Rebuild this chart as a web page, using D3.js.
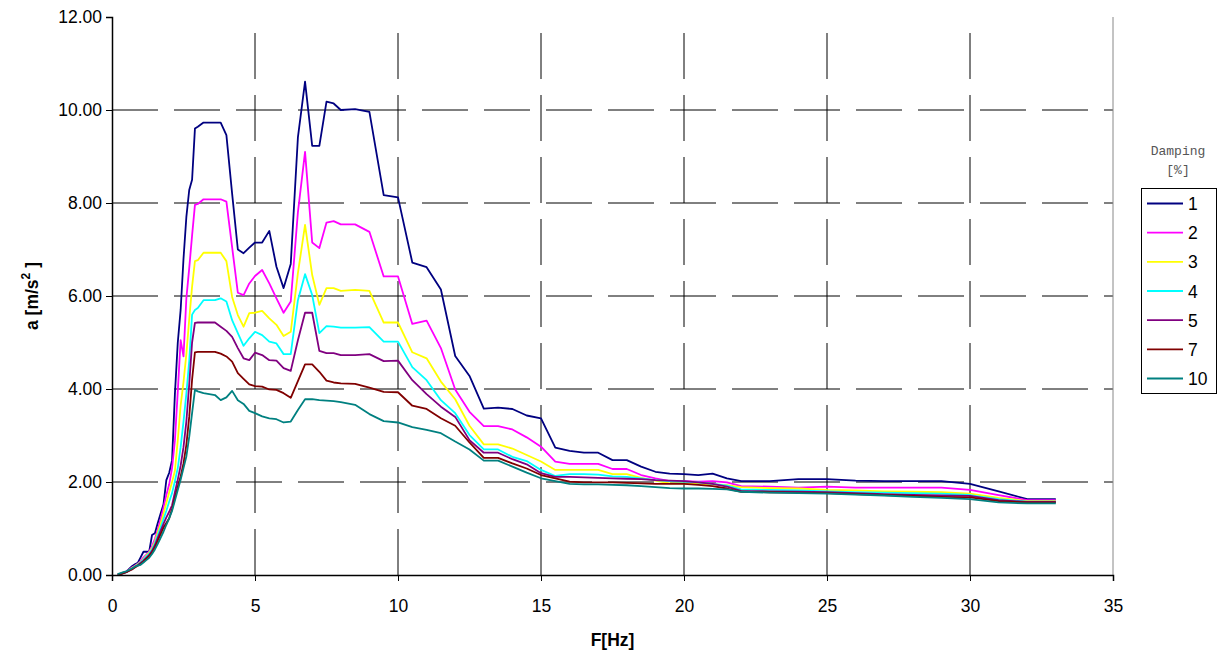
<!DOCTYPE html>
<html><head><meta charset="utf-8">
<script src="https://cdn.jsdelivr.net/npm/d3@7/dist/d3.min.js"></script>
<style>body{margin:0;background:#fff} svg{display:block}</style>
</head><body>
<svg id="c" width="1226" height="657"></svg>
<script>
// ---- data ----
const freq = [
  0.2,0.3,0.4,0.5,0.6,0.7,0.8,0.9,1.0,1.1,1.2,1.3,1.4,1.5,1.6,1.7,1.8,1.9,2.0,2.1,2.2,2.3,2.4,2.5,2.6,2.7,2.8,2.9,3.0,
  3.2,3.4,3.6,3.8,4.0,4.2,4.4,4.6,4.8,5.0,
  5.25,5.5,5.75,6.0,6.25,6.5,6.75,7.0,7.25,7.5,7.75,8.0,
  8.5,9,9.5,10,10.5,11,11.5,12,12.5,13,13.5,14,14.5,15,15.5,16,16.5,17,17.5,18,18.5,19,19.5,20,20.5,21,21.5,22,
  23,24,25,26,27,28,29,30,31,32,33];
const damping = ["1","2","3","4","5","7","10"];
const d1 = [
  0.01,0.03,0.05,0.07,0.13,0.19,0.23,0.26,0.38,0.50,0.50,0.50,0.86,0.90,1.12,1.32,1.52,2.04,2.20,2.47,3.90,5.00,5.70,6.80,7.70,8.28,8.50,9.60,9.64,
  9.73,9.73,9.73,9.73,9.46,8.20,7.00,6.92,7.04,7.15,
  7.15,7.40,6.63,6.17,6.69,9.41,10.61,9.23,9.23,10.18,10.14,10.00,
  10.02,9.96,8.17,8.12,6.72,6.62,6.14,4.71,4.28,3.58,3.60,3.57,3.43,3.37,2.74,2.67,2.63,2.63,2.47,2.47,2.33,2.22,2.18,2.17,2.15,2.18,2.08,2.02,
  2.02,2.06,2.06,2.03,2.02,2.02,2.02,1.96,1.80,1.63,1.63];
const d2 = [
  0.01,0.03,0.05,0.08,0.12,0.16,0.20,0.24,0.30,0.38,0.44,0.50,0.62,0.78,0.98,1.20,1.45,1.72,1.95,2.30,2.90,3.95,5.05,4.70,5.95,6.60,7.30,7.96,7.98,
  8.08,8.08,8.08,8.08,8.03,7.05,6.07,6.02,6.27,6.43,
  6.56,6.27,5.95,5.64,5.88,7.80,9.10,7.15,7.03,7.58,7.61,7.54,
  7.54,7.38,6.42,6.42,5.40,5.47,4.88,3.99,3.51,3.20,3.20,3.13,2.96,2.76,2.44,2.39,2.39,2.39,2.28,2.28,2.15,2.08,2.02,2.02,2.01,2.02,1.99,1.91,
  1.90,1.88,1.90,1.88,1.88,1.88,1.88,1.83,1.72,1.61,1.61];
const d3v = [
  0.01,0.03,0.05,0.07,0.11,0.15,0.19,0.23,0.28,0.35,0.42,0.48,0.58,0.72,0.92,1.10,1.32,1.55,1.78,2.00,2.24,2.90,3.65,4.15,4.75,5.50,6.20,6.75,6.77,
  6.93,6.93,6.93,6.93,6.75,5.98,5.59,5.34,5.63,5.64,
  5.68,5.52,5.38,5.14,5.23,6.49,7.53,6.45,5.81,6.17,6.17,6.11,
  6.13,6.11,5.43,5.43,4.79,4.66,4.16,3.78,3.21,2.81,2.81,2.72,2.58,2.44,2.26,2.26,2.26,2.26,2.17,2.17,2.09,2.03,1.97,1.97,1.96,1.95,1.93,1.89,
  1.87,1.86,1.83,1.82,1.80,1.79,1.78,1.75,1.66,1.59,1.59];
const d4 = [
  0.01,0.02,0.04,0.06,0.10,0.14,0.18,0.22,0.27,0.33,0.40,0.46,0.55,0.68,0.86,1.02,1.20,1.38,1.58,1.76,2.02,2.30,2.75,3.30,3.90,4.60,5.60,5.70,5.74,
  5.91,5.91,5.91,5.95,5.88,5.48,5.20,4.93,5.09,5.23,
  5.16,5.02,4.98,4.75,4.75,5.91,6.47,6.02,5.20,5.35,5.34,5.32,
  5.32,5.33,5.02,5.02,4.47,4.19,3.76,3.48,3.01,2.70,2.70,2.54,2.45,2.26,2.13,2.17,2.17,2.16,2.12,2.11,2.08,2.04,2.02,2.01,1.99,1.96,1.92,1.84,
  1.83,1.82,1.80,1.78,1.77,1.76,1.75,1.72,1.63,1.58,1.58];
const d5 = [
  0.01,0.02,0.04,0.06,0.09,0.13,0.17,0.21,0.26,0.31,0.37,0.43,0.52,0.64,0.80,0.95,1.10,1.24,1.36,1.50,1.78,2.05,2.35,2.75,3.30,4.10,5.00,5.42,5.43,
  5.43,5.43,5.43,5.34,5.25,5.12,4.88,4.66,4.62,4.78,
  4.73,4.62,4.61,4.45,4.39,5.05,5.64,5.64,4.82,4.77,4.77,4.73,
  4.73,4.75,4.60,4.61,4.19,3.89,3.62,3.40,2.90,2.63,2.63,2.49,2.38,2.19,2.11,2.11,2.10,2.09,2.08,2.07,2.06,2.04,2.03,2.02,1.99,1.96,1.90,1.81,
  1.80,1.79,1.78,1.76,1.74,1.72,1.71,1.70,1.61,1.57,1.57];
const d7 = [
  0.01,0.02,0.04,0.06,0.09,0.12,0.16,0.20,0.24,0.29,0.35,0.41,0.49,0.60,0.74,0.88,1.02,1.12,1.22,1.42,1.66,1.90,2.12,2.40,2.80,3.40,4.20,4.79,4.80,
  4.80,4.80,4.80,4.76,4.70,4.59,4.34,4.22,4.10,4.06,
  4.05,3.99,3.98,3.91,3.81,4.17,4.53,4.53,4.37,4.18,4.14,4.12,
  4.11,4.03,3.94,3.93,3.64,3.57,3.37,3.21,2.85,2.52,2.52,2.40,2.29,2.15,2.08,2.01,1.99,1.99,1.99,1.98,1.97,1.96,1.96,1.96,1.94,1.91,1.86,1.79,
  1.78,1.77,1.76,1.74,1.72,1.70,1.68,1.67,1.59,1.56,1.56];
const d10 = [
  0.02,0.04,0.06,0.08,0.11,0.14,0.18,0.20,0.22,0.27,0.32,0.37,0.45,0.55,0.67,0.80,0.93,1.08,1.22,1.38,1.60,1.83,2.05,2.30,2.55,2.97,3.48,3.98,3.95,
  3.91,3.89,3.87,3.76,3.82,3.96,3.76,3.68,3.53,3.48,
  3.41,3.37,3.35,3.28,3.30,3.55,3.78,3.78,3.76,3.75,3.74,3.72,
  3.66,3.46,3.31,3.28,3.18,3.12,3.05,2.87,2.70,2.46,2.46,2.33,2.20,2.08,2.02,1.96,1.95,1.95,1.94,1.93,1.91,1.89,1.87,1.86,1.86,1.85,1.84,1.79,
  1.77,1.76,1.75,1.73,1.71,1.68,1.66,1.63,1.56,1.54,1.54];
const seriesValues = [d1, d2, d3v, d4, d5, d7, d10];
const xTicks = [0,5,10,15,20,25,30,35];
const yTicks = [0,2,4,6,8,10,12];

// ---- style ----
const colors = ["#000080","#FF00FF","#FFFF00","#00FFFF","#800080","#800000","#008080"];
const svg = d3.select("#c");
const L = 112, R = 1113, T = 17, B = 575;
const x = d3.scaleLinear().domain([0,35]).range([L,R]);
const y = d3.scaleLinear().domain([0,12]).range([B,T]);
const font = "'Liberation Sans', Arial, sans-serif";
const fs = 17.5;

// grid
const g = svg.append("g");
g.selectAll("line.h").data(yTicks.filter(d => d > 0 && d < 12)).join("line")
  .attr("x1", L).attr("x2", R).attr("y1", d => y(d)).attr("y2", d => y(d))
  .attr("stroke", "#000").attr("stroke-width", 1).attr("stroke-dasharray", "46,16");
g.selectAll("line.v").data(xTicks.filter(d => d > 0 && d < 35)).join("line")
  .attr("y1", B).attr("y2", T).attr("x1", d => x(d)).attr("x2", d => x(d))
  .attr("stroke", "#000").attr("stroke-width", 1).attr("stroke-dasharray", "46,16");
// right border
svg.append("line").attr("x1", R).attr("x2", R).attr("y1", T).attr("y2", B)
  .attr("stroke", "#888").attr("stroke-width", 1);

// lines
const line = d3.line().x((d, i) => x(freq[i])).y(d => y(d));
svg.append("g").selectAll("path").data(seriesValues).join("path")
  .attr("d", d => line(d)).attr("fill", "none")
  .attr("stroke", (d, i) => colors[i]).attr("stroke-width", 1.8)
  .attr("stroke-linejoin", "round");

// axes
const ya = svg.append("g").attr("transform", `translate(${L},0)`)
  .call(d3.axisLeft(y).tickValues(yTicks).tickFormat(d3.format(".2f")).tickSize(6).tickPadding(4));
const xa = svg.append("g").attr("transform", `translate(0,${B})`)
  .call(d3.axisBottom(x).tickValues(xTicks).tickFormat(d3.format("d")).tickSize(6).tickPadding(19));
[ya, xa].forEach(a => {
  a.selectAll("text").attr("font-family", font).attr("font-size", fs).attr("fill", "#000");
  a.selectAll("line").attr("stroke", "#000");
  a.select(".domain").attr("stroke", "#000").attr("stroke-width", 1.5);
});

// titles
svg.append("text").attr("x", (L + R) / 2).attr("y", 646).attr("text-anchor", "middle")
  .attr("font-family", font).attr("font-size", fs).attr("font-weight", "bold").text("F[Hz]");
const yt = svg.append("text").attr("transform", `translate(38,${(T + B) / 2}) rotate(-90)`)
  .attr("text-anchor", "middle").attr("font-family", font).attr("font-size", fs).attr("font-weight", "bold");
yt.append("tspan").text("a [m/s");
yt.append("tspan").attr("dy", -8).attr("font-size", 12).text("2");
yt.append("tspan").attr("dy", 8).text(" ]");

// legend
const lg = svg.append("g");
const mono = "'Liberation Mono', 'DejaVu Sans Mono', monospace";
lg.append("text").attr("x", 1178).attr("y", 155).attr("text-anchor", "middle")
  .attr("font-family", mono).attr("font-size", 13).attr("fill", "#555").text("Damping");
lg.append("text").attr("x", 1178).attr("y", 174).attr("text-anchor", "middle")
  .attr("font-family", mono).attr("font-size", 13).attr("fill", "#555").text("[%]");
lg.append("rect").attr("x", 1141.5).attr("y", 188.5).attr("width", 75).attr("height", 205)
  .attr("fill", "#fff").attr("stroke", "#000").attr("stroke-width", 1);
const ly = d3.scalePoint().domain(damping).range([203.5, 378.5]);
const items = lg.selectAll("g.it").data(damping).join("g");
items.append("line").attr("x1", 1147).attr("x2", 1183)
  .attr("y1", d => ly(d)).attr("y2", d => ly(d))
  .attr("stroke", (d, i) => colors[i]).attr("stroke-width", 1.8);
items.append("text").attr("x", 1188).attr("y", d => ly(d) + 6.5)
  .attr("font-family", font).attr("font-size", fs).text(d => d);
</script>
</body></html>
